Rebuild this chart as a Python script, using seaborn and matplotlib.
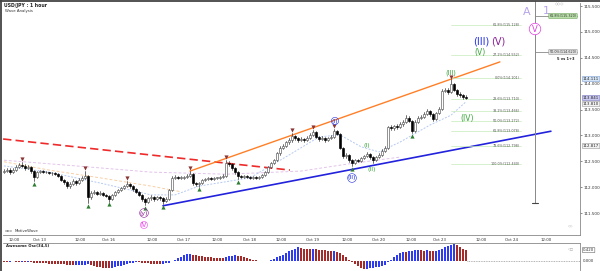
import numpy as np
import matplotlib
matplotlib.use("Agg")
import matplotlib.pyplot as plt
import seaborn as sns
from matplotlib.patches import Rectangle
from matplotlib.lines import Line2D

sns.set_style("white")
plt.rcParams['font.family'] = ['DejaVu Sans']

# ---------------- data ----------------
first_open = 112.30
closes = [112.31, 112.33, 112.29, 112.33, 112.39, 112.43, 112.41, 112.37, 112.39, 112.31,
          112.20, 112.29, 112.31, 112.29, 112.29, 112.27, 112.27, 112.25, 112.22, 112.14,
          112.10, 112.02, 112.06, 112.12, 112.08, 112.14, 112.18, 112.22, 111.81, 111.89,
          111.91, 111.87, 111.89, 111.85, 111.83, 111.77, 111.85, 111.91, 111.94, 111.98,
          112.02, 112.06, 112.02, 111.96, 111.91, 111.85, 111.77, 111.71, 111.79, 111.81,
          111.77, 111.81, 111.79, 111.73, 111.77, 111.94, 112.18, 112.20, 112.18, 112.18,
          112.20, 112.22, 112.25, 112.08, 112.06, 112.08, 112.14, 112.16, 112.18, 112.16,
          112.18, 112.18, 112.20, 112.22, 112.47, 112.45, 112.37, 112.29, 112.22, 112.20,
          112.22, 112.20, 112.18, 112.20, 112.18, 112.20, 112.23, 112.29, 112.39, 112.47,
          112.52, 112.66, 112.76, 112.80, 112.87, 112.91, 112.99, 112.95, 112.91, 112.93,
          112.91, 112.95, 113.01, 113.07, 112.97, 112.93, 112.95, 112.91, 112.95, 112.97,
          113.09, 113.03, 112.76, 112.60, 112.62, 112.52, 112.47, 112.52, 112.51, 112.56,
          112.60, 112.64, 112.58, 112.52, 112.58, 112.62, 112.70, 112.76, 113.16, 113.14,
          113.18, 113.16, 113.22, 113.26, 113.34, 113.28, 113.09, 113.26, 113.34, 113.36,
          113.41, 113.47, 113.41, 113.32, 113.43, 113.51, 113.86, 113.88, 113.84, 113.99,
          113.88, 113.80, 113.78, 113.74, 113.72]
highs = [112.35, 112.36, 112.36, 112.37, 112.42, 112.47, 112.49, 112.44, 112.42, 112.41,
         112.33, 112.31, 112.34, 112.33, 112.31, 112.30, 112.29, 112.29, 112.27, 112.24,
         112.16, 112.12, 112.09, 112.15, 112.14, 112.17, 112.21, 112.31, 112.24, 111.92,
         111.94, 111.93, 111.92, 111.91, 111.87, 111.85, 111.87, 111.93, 111.97, 112.01,
         112.05, 112.12, 112.08, 112.04, 111.98, 111.93, 111.87, 111.79, 111.81, 111.84,
         111.83, 111.83, 111.83, 111.81, 111.80, 111.96, 112.22, 112.23, 112.22, 112.21,
         112.22, 112.25, 112.31, 112.27, 112.10, 112.10, 112.16, 112.18, 112.20, 112.20,
         112.20, 112.20, 112.22, 112.25, 112.52, 112.51, 112.47, 112.39, 112.31, 112.24,
         112.24, 112.24, 112.22, 112.22, 112.22, 112.22, 112.25, 112.31, 112.41, 112.49,
         112.55, 112.68, 112.79, 112.83, 112.90, 112.94, 113.04, 113.01, 112.97, 112.96,
         112.95, 112.98, 113.04, 113.11, 113.09, 112.99, 112.98, 112.97, 112.97, 113.00,
         113.13, 113.11, 113.05, 112.78, 112.66, 112.64, 112.55, 112.55, 112.54, 112.59,
         112.63, 112.68, 112.66, 112.60, 112.60, 112.65, 112.73, 112.80, 113.19, 113.20,
         113.21, 113.22, 113.26, 113.30, 113.40, 113.37, 113.30, 113.29, 113.37, 113.40,
         113.45, 113.51, 113.49, 113.43, 113.46, 113.55, 113.89, 113.92, 113.91, 114.08,
         114.01, 113.90, 113.83, 113.80, 113.78]
lows = [112.27, 112.29, 112.26, 112.27, 112.31, 112.37, 112.38, 112.34, 112.35, 112.28,
        112.12, 112.18, 112.27, 112.27, 112.27, 112.25, 112.24, 112.23, 112.19, 112.11,
        112.06, 111.98, 111.99, 112.04, 112.05, 112.06, 112.12, 112.16, 111.70, 111.78,
        111.86, 111.84, 111.85, 111.82, 111.80, 111.72, 111.75, 111.83, 111.89, 111.92,
        111.96, 112.00, 111.99, 111.93, 111.88, 111.82, 111.73, 111.66, 111.69, 111.76,
        111.74, 111.75, 111.76, 111.68, 111.71, 111.75, 111.92, 112.15, 112.16, 112.15,
        112.16, 112.18, 112.20, 112.05, 112.03, 112.01, 112.06, 112.12, 112.14, 112.14,
        112.14, 112.16, 112.16, 112.18, 112.20, 112.41, 112.34, 112.26, 112.15, 112.17,
        112.18, 112.18, 112.16, 112.16, 112.16, 112.16, 112.18, 112.21, 112.27, 112.37,
        112.44, 112.50, 112.63, 112.73, 112.77, 112.84, 112.88, 112.92, 112.88, 112.89,
        112.88, 112.89, 112.93, 112.99, 112.94, 112.90, 112.91, 112.88, 112.89, 112.93,
        112.95, 113.00, 112.73, 112.56, 112.57, 112.48, 112.41, 112.44, 112.48, 112.49,
        112.54, 112.58, 112.55, 112.46, 112.50, 112.56, 112.60, 112.68, 112.74, 113.10,
        113.11, 113.13, 113.14, 113.19, 113.24, 113.25, 113.04, 113.07, 113.24, 113.31,
        113.33, 113.39, 113.38, 113.28, 113.30, 113.41, 113.49, 113.83, 113.80, 113.82,
        113.85, 113.77, 113.75, 113.71, 113.70]
opens = [first_open] + closes[:-1]

top_pivots = [6, 27, 41, 62, 74, 96, 103, 110, 149]
bottom_pivots = [10, 28, 35, 47, 53, 65, 78, 116, 136]

ao = [-0.02, -0.03, -0.02, -0.01, -0.02, -0.03, -0.02, -0.04, -0.03, -0.05,
      -0.06, -0.07, -0.08, -0.085, -0.09, -0.10, -0.105, -0.11, -0.12, -0.125,
      -0.13, -0.14, -0.15, -0.16, -0.155, -0.15, -0.145, -0.14, -0.13, -0.16,
      -0.19, -0.22, -0.24, -0.26, -0.27, -0.28, -0.26, -0.23, -0.20, -0.17,
      -0.14, -0.11, -0.08, -0.06, -0.04, -0.05, -0.06, -0.08, -0.09, -0.10,
      -0.11, -0.115, -0.12, -0.11, -0.09, -0.06, -0.01, 0.05, 0.11, 0.17,
      0.22, 0.26, 0.27, 0.25, 0.23, 0.21, 0.19, 0.17, 0.15, 0.14,
      0.13, 0.12, 0.11, 0.10, 0.14, 0.18, 0.21, 0.23, 0.21, 0.18,
      0.15, 0.12, 0.09, 0.06, 0.04, 0.02, 0.01, 0.00, 0.02, 0.05,
      0.09, 0.14, 0.19, 0.25, 0.31, 0.37, 0.43, 0.48, 0.52, 0.50,
      0.48, 0.47, 0.46, 0.47, 0.46, 0.44, 0.43, 0.42, 0.40, 0.38,
      0.39, 0.36, 0.30, 0.23, 0.15, 0.06, -0.04, -0.13, -0.20, -0.26,
      -0.30, -0.29, -0.27, -0.25, -0.23, -0.21, -0.18, -0.14, -0.04, 0.06,
      0.15, 0.22, 0.30, 0.36, 0.35, 0.38, 0.40, 0.41, 0.42, 0.41,
      0.40, 0.41, 0.40, 0.38, 0.39, 0.42, 0.48, 0.54, 0.58, 0.62,
      0.64, 0.60, 0.54, 0.48, 0.42]

# moving averages (read at sample bars)
ma_fast_idx = [0, 15, 32, 49, 57, 65, 82, 95, 105, 112, 119, 125, 132, 142, 149, 154]
ma_fast_val = [112.41, 112.29, 112.08, 111.85, 111.85, 112.02, 112.18, 112.62, 112.97, 113.01,
               112.78, 112.68, 112.87, 113.20, 113.39, 113.65]
ma_mid_idx = [0, 15, 32, 49, 59]
ma_mid_val = [112.49, 112.33, 112.18, 112.02, 111.91]
ma_slow_idx = [0, 24, 49, 74, 99, 115, 132]
ma_slow_val = [112.52, 112.41, 112.29, 112.25, 112.31, 112.45, 112.58]

# trend lines (bar, price)
red_line = ([-0.3, 95.3], [112.93, 112.33])
orange_line = ([62, 165.3], [112.31, 114.42])
blue_line = ([53, 182.3], [111.64, 113.08])

fib_prices = [115.128, 114.552, 114.101, 113.710, 113.466, 113.272, 113.078, 112.798, 112.440]
fib_names = ["61.8%(115.128)", "27.2%(114.552)", "0.0%(114.101)", "23.6%(113.710)",
             "38.2%(113.466)", "50.0%(113.272)", "61.8%(113.078)", "78.6%(112.798)",
             "100.0%(112.440)"]

tick_pos = [3.3, 11.7, 25.3, 34.7, 49.3, 59.7, 71, 82, 92.3, 103, 114.3, 124.7, 135.7,
            145.3, 159, 169.3, 180.7]
tick_lab = ["12:00", "Oct 13", "12:00", "Oct 16", "12:00", "Oct 17", "12:00", "Oct 18",
            "12:00", "Oct 19", "12:00", "Oct 20", "12:00", "Oct 23", "12:00", "Oct 24", "12:00"]
price_ticks = [111.5, 112.0, 112.5, 113.0, 113.5, 114.0, 114.5, 115.0, 115.5]

# ---------------- figure ----------------
W, H = 600, 271
fig = plt.figure(figsize=(6, 2.71), dpi=100)
fig.patch.set_facecolor("white")

def fx(px):
    return px / W

def fy(py):
    return 1 - py / H

ax = fig.add_axes([fx(3), fy(235), fx(577), 232 / H])
ax2 = fig.add_axes([fx(3), fy(270), fx(577), 27 / H])

xmin, xmax = -1 / 3, 192
ax.set_xlim(xmin, xmax)
ax.set_ylim(111.075, 115.558)

n = len(closes)
xs = np.arange(n)

# moving averages
sns.lineplot(x=ma_slow_idx, y=ma_slow_val, ax=ax, color="#e3c3ea", lw=0.7,
             linestyle=(0, (3, 2)), sort=False, estimator=None)
sns.lineplot(x=ma_mid_idx, y=ma_mid_val, ax=ax, color="#f7cfa6", lw=0.7,
             linestyle=(0, (3, 2)), sort=False, estimator=None)
sns.lineplot(x=ma_fast_idx, y=ma_fast_val, ax=ax, color="#b5c9f2", lw=0.7,
             linestyle=(0, (2, 1.5)), sort=False, estimator=None)

# trend lines
ax.plot(*red_line, color="#ee2a2a", lw=1.2, dashes=(5, 2.5))
ax.plot(*orange_line, color="#ff7f27", lw=1.0)
ax.plot(*blue_line, color="#2222dd", lw=1.2)

# fib levels
for p, lab in zip(fib_prices, fib_names):
    ax.plot([149, 172.3], [p, p], color="#c5ebb8", lw=0.5)
    ax.text(172, p, lab, fontsize=2.4, color="#555555", ha="right", va="center")

# candles
bw = 0.75
for i in xs:
    o, c, h, l = opens[i], closes[i], highs[i], lows[i]
    ax.plot([i, i], [l, h], color="#333333", lw=0.5, zorder=3)
    lo_b, hi_b = min(o, c), max(o, c)
    if hi_b - lo_b < 0.01:
        hi_b = lo_b + 0.01
    if c >= o:
        fc, ec = "white", "#555555"
    else:
        fc, ec = "black", "black"
    ax.add_patch(Rectangle((i - bw / 2, lo_b), bw, hi_b - lo_b, fc=fc, ec=ec, lw=0.45, zorder=4))

# pivots
ax.scatter(top_pivots, [highs[i] + 0.055 for i in top_pivots], marker="v", s=9,
           color="#8b3535", zorder=5, linewidths=0)
ax.scatter(bottom_pivots, [lows[i] - 0.055 for i in bottom_pivots], marker="^", s=9,
           color="#2e7d32", zorder=5, linewidths=0)

# axes styling main
for s in ["top", "left"]:
    ax.spines[s].set_visible(False)
for s in ["right", "bottom"]:
    ax.spines[s].set_color("#888888")
    ax.spines[s].set_linewidth(0.6)
ax.yaxis.tick_right()
ax.set_yticks(price_ticks)
ax.set_yticklabels(["%.3f" % v for v in price_ticks])
ax.tick_params(axis="y", labelsize=3, length=1.5, width=0.4, pad=0.8, colors="#333333")
ax.set_xticks(tick_pos)
ax.set_xticklabels(tick_lab)
ax.tick_params(axis="x", labelsize=2.8, length=1.5, width=0.4, pad=0.8, colors="#333333")

# lower panel AO
ax2.set_xlim(xmin, xmax)
ax2.set_ylim(-0.34, 0.69)
colors = ["#a52a2a"] + ["#2f3bef" if ao[i] > ao[i - 1] else "#a52a2a" for i in range(1, n)]
ax2.bar(xs, ao, width=0.75, color=colors, linewidth=0)
ax2.plot([n - 0.5, xmax], [0, 0], color="#999999", lw=0.6, ls=(0, (1, 1)))
for s in ["top", "left", "bottom"]:
    ax2.spines[s].set_visible(False)
ax2.spines["right"].set_color("#888888")
ax2.spines["right"].set_linewidth(0.6)
ax2.set_xticks([])
ax2.set_yticks([])
ax2.text(0.5, 0.6, "Awesome Osc(34,5)", fontsize=2.8, fontweight="bold", color="#222222",
         va="center")
ax2.text(xmax + 0.8, 0, "0.000", fontsize=2.8, color="#333333", va="center", clip_on=False)
ax2.text(xmax + 1.0, ao[-1], "%.3f" % ao[-1], fontsize=2.8, color="#333333", va="center",
         clip_on=False,
         bbox=dict(boxstyle="round,pad=0.15", fc="white", ec="#666666", lw=0.4))

# separator line top of lower panel
fig.add_artist(Line2D([fx(3), fx(580)], [fy(243), fy(243)], color="#888888", lw=0.6))

# ---------------- annotations (layout in pixels) ----------------
def ftext(px, py, s, **kw):
    return fig.text(fx(px), fy(py), s, **kw)

ftext(4, 5, "USD/JPY : 1 hour", fontsize=3.3, fontweight="bold", color="#222222", va="center")
ftext(5, 11, "Wave Analysis", fontsize=2.8, color="#333333", va="center")
ftext(5, 231, "▫▫▫", fontsize=2.8, color="#888888", va="center")
ftext(15, 231, "MotiveWave", fontsize=2.8, color="#333333", va="center")
ftext(555, 5, "◇◇◇", fontsize=3, color="#999999", va="center")
ftext(568, 227, "◇◇", fontsize=2.5, color="#999999", va="center")
ftext(568, 248, "◇□", fontsize=2.5, color="#999999", va="center")

# wave labels
ftext(481, 42, "(III)", fontsize=7, color="#1f2ee6", ha="center", va="center")
ftext(498, 42, "(V)", fontsize=7, color="#8a1e96", ha="center", va="center")
ftext(480, 52, "(V)", fontsize=5.5, color="#3aa53a", ha="center", va="center")
ftext(451, 73, "(III)", fontsize=4.8, color="#3aa53a", ha="center", va="center")
ftext(467, 119, "(IV)", fontsize=5.5, color="#3aa53a", ha="center", va="center")
ftext(367, 146, "(I)", fontsize=4.5, color="#3aa53a", ha="center", va="center")
ftext(372, 170, "(II)", fontsize=4.5, color="#3aa53a", ha="center", va="center")
ftext(335, 121, "(I)", fontsize=4.5, color="#1f2ee6", ha="center", va="center",
      bbox=dict(boxstyle="circle,pad=0.05", fc="none", ec="#1f2ee6", lw=0.4))
ftext(352, 178, "(II)", fontsize=4.5, color="#1f2ee6", ha="center", va="center",
      bbox=dict(boxstyle="circle,pad=0.02", fc="none", ec="#1f2ee6", lw=0.4))
ftext(144, 213, "(y)", fontsize=4.5, color="#8a1e96", ha="center", va="center",
      bbox=dict(boxstyle="circle,pad=0.02", fc="none", ec="#8a1e96", lw=0.4))
ftext(144, 225, "IV", fontsize=4.8, color="#ee44ee", ha="center", va="center",
      bbox=dict(boxstyle="circle,pad=0.05", fc="none", ec="#ee44ee", lw=0.4))
ftext(527, 12, "A", fontsize=8, color="#b7a3ec", ha="center", va="center")
ftext(546, 11, "1", fontsize=8, color="#b7a3ec", ha="center", va="center")

# right-hand projection lines
fig.add_artist(Line2D([fx(535), fx(535)], [fy(1), fy(203)], color="#888888", lw=0.7))
fig.add_artist(Line2D([fx(532), fx(538)], [fy(203), fy(203)], color="#444444", lw=0.8))
fig.add_artist(Line2D([fx(535), fx(577)], [fy(16), fy(16)], color="#888888", lw=0.6))
fig.add_artist(Line2D([fx(535), fx(577)], [fy(52), fy(52)], color="#888888", lw=0.6))
ftext(535, 29, "V", fontsize=6, color="#e03ce0", ha="center", va="center",
      bbox=dict(boxstyle="circle,pad=0.15", fc="white", ec="#e03ce0", lw=0.5))
ftext(563, 16, "61.8%(115.320)", fontsize=2.4, color="#333333", ha="center", va="center",
      bbox=dict(boxstyle="round,pad=0.2", fc="#b9dfa9", ec="#77aa66", lw=0.4))
ftext(563, 52, "50.0%(114.620)", fontsize=2.4, color="#333333", ha="center", va="center",
      bbox=dict(boxstyle="round,pad=0.2", fc="#e2e2e2", ec="#999999", lw=0.4))
ftext(566, 59, "5 vs 1+3", fontsize=2.6, fontweight="bold", color="#222222", ha="center",
      va="center")

# price boxes on right axis
for py, s, fc, ec in [(79, "114.111", "#d5e5f7", "#7f9fd0"),
                      (98, "113.841", "#c9c8ef", "#7777bb"),
                      (104, "113.810", "#f2f2f2", "#999999"),
                      (146, "112.817", "#f2f2f2", "#999999")]:
    ftext(583, py, s, fontsize=2.8, color="#222222", va="center",
          bbox=dict(boxstyle="round,pad=0.15", fc=fc, ec=ec, lw=0.4))

# outer frame
fig.add_artist(Line2D([0, 1], [fy(0.6), fy(0.6)], color="#444444", lw=1.3))
fig.add_artist(Line2D([fx(1), fx(1)], [0, 1], color="#444444", lw=1.3))

fig.savefig("out.png", dpi=100, facecolor="white")
